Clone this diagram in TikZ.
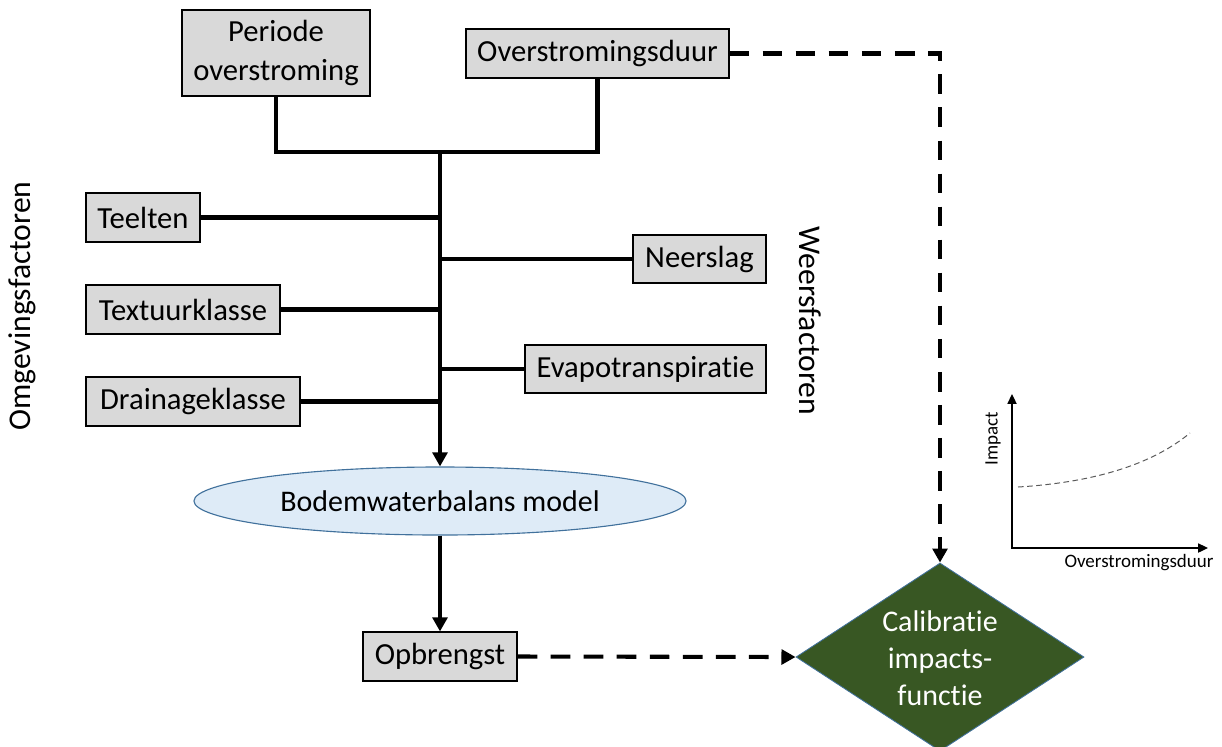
\documentclass[tikz,border=0pt]{standalone}
\usepackage{fontspec}
\setmainfont[Renderer=OpenType,Ligatures={NoCommon,NoContextual,NoRare,NoRequired},Contextuals=NoAlternate]{Carlito}
\usetikzlibrary{arrows.meta,shapes.geometric}
\definecolor{boxgray}{HTML}{D9D9D9}
\definecolor{ellfill}{HTML}{DEEBF7}
\definecolor{ellline}{HTML}{41719C}
\definecolor{diagreen}{HTML}{385723}
\newcommand{\nolig}{\kern0pt\relax}
\tikzset{
  fbox/.style={draw=black, line width=0.8pt, fill=boxgray, inner sep=0pt, align=center,
    font=\fontsize{21.8}{28}\selectfont},
  conn/.style={line width=2.9pt, draw=black},
  trunk/.style={line width=3.3pt, draw=black},
  tip/.style={-{Triangle[length=10pt,width=10.5pt]}},
  dashconn/.style={line width=2.9pt, dash pattern=on 14pt off 9.5pt},
  bigtxt/.style={font=\fontsize{21.3}{28}\selectfont},
  smalltxt/.style={font=\fontsize{13.5}{16}\selectfont},
  axisline/.style={line width=0.9pt, {Triangle[length=7pt,width=6.5pt]}-{Triangle[length=7pt,width=6.5pt]}}
}
\begin{document}
\begin{tikzpicture}[x=0.025cm,y=-0.025cm]
\useasboundingbox (0,0) rectangle (1222,746);
% boxes
\node[fbox, minimum width=4.7cm, minimum height=2.15cm] (per) at (276,53) {Periode\\overstroming};
\node[fbox, minimum width=6.575cm, minimum height=1.225cm] (ovd) at (597.5,53.5) {Overstromingsduur};
\node[fbox, minimum width=2.85cm, minimum height=1.225cm] (tee) at (143,217.5) {Teelten};
\node[fbox, minimum width=4.85cm, minimum height=1.225cm] (tex) at (183,309.5) {Textuurklasse};
\node[fbox, minimum width=5.35cm, minimum height=1.225cm] (dra) at (193,401.5) {Drainageklasse};
\node[fbox, minimum width=3.325cm, minimum height=1.2cm] (nee) at (699.5,259) {Neerslag};
\node[fbox, minimum width=6.025cm, minimum height=1.2cm] (eva) at (645.5,369) {Evapotranspirat\nolig ie};
\node[fbox, minimum width=3.85cm, minimum height=1.225cm] (opb) at (440,656.5) {Opbrengst};
\node[ellipse, draw=ellline, line width=0.8pt, fill=ellfill, inner sep=0pt,
  minimum width=12.3cm, minimum height=1.7cm, bigtxt] (bwb) at (440,501) {Bodemwaterbalans model};
\node[diamond, draw=ellline, line width=0.6pt, fill=diagreen, inner sep=0pt,
  minimum width=7.2cm, minimum height=4.7cm] (cal) at (940,657) {};
\node[text=white, align=center, font=\fontsize{21.3}{26.5}\selectfont] (caltxt) at (940,658) {Calibrat\nolig ie\\impacts-\\funct\nolig ie};
% side labels
\node[rotate=90, font=\fontsize{22.5}{26}\selectfont] (omg) at (22,306) {Omgevingsfactoren};
\node[rotate=-90, font=\fontsize{22.5}{26}\selectfont] (wee) at (810,321) {Weersfactoren};
% connectors
\coordinate (jn) at (440,152);
\draw[conn, line join=miter] (per.south) |- (jn) -| (ovd.south);
\draw[trunk, tip] (jn) -- (bwb.north);
\draw[conn] (tee.east) -- (tee.east -| jn);
\draw[conn] (tex.east) -- (tex.east -| jn);
\draw[conn] (dra.east) -- (dra.east -| jn);
\draw[conn] (nee.west) -- (nee.west -| jn);
\draw[conn] (eva.west) -- (eva.west -| jn);
\draw[trunk, tip] (bwb.south) -- (opb.north);
\draw[dashconn, tip] (opb.east) -- (cal.west);
\draw[dashconn, tip] (ovd.east) -| (cal.north);
% small graph
\coordinate (org) at (1012,548);
\coordinate (ytop) at (1012,394);
\coordinate (xend) at (1208,548);
\draw[axisline] (ytop) -- (org) -- (xend);
\coordinate (cs) at (1018,487);
\coordinate (ce) at (1190,433);
\draw[gray!70!black, line width=0.7pt, dash pattern=on 4pt off 2.5pt]
  (cs) .. controls (1100,482) and (1155,462) .. (ce);
\node[smalltxt, rotate=90] (imp) at (993,439) {Impact};
\node[smalltxt] (xlab) at (1139,563) {Overstromingsduur};
\end{tikzpicture}
\end{document}
